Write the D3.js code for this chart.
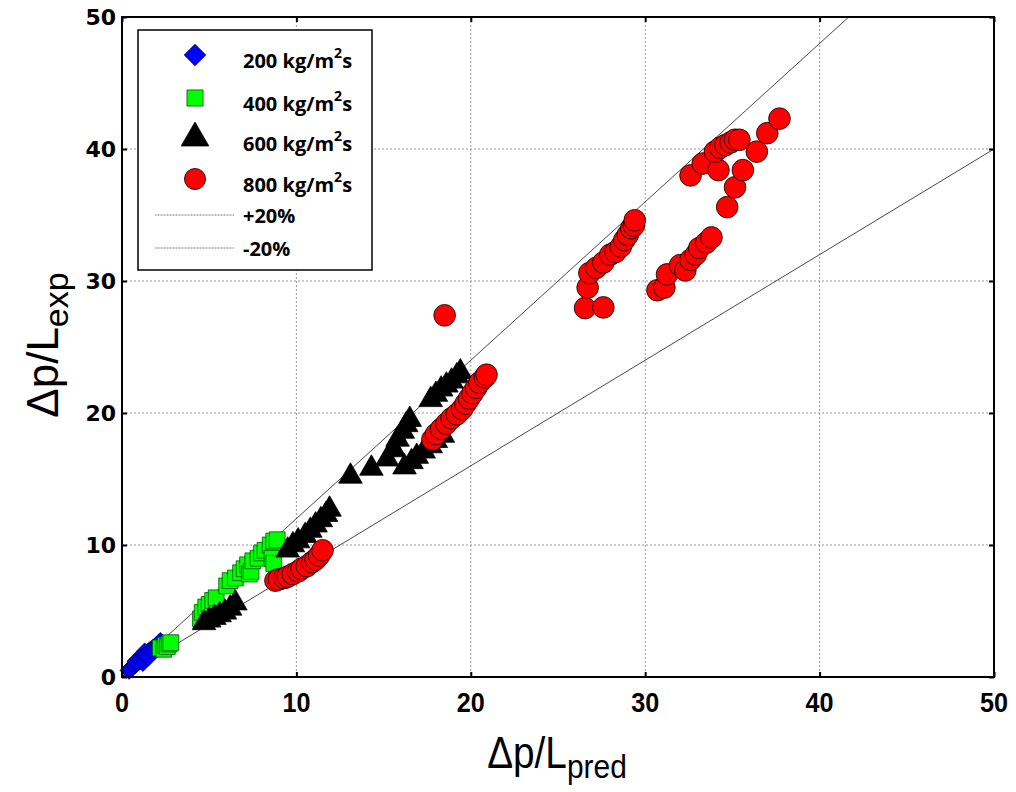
<!DOCTYPE html>
<html>
<head>
<meta charset="utf-8">
<script src="https://cdn.jsdelivr.net/npm/d3@7.9.0/dist/d3.min.js"></script>
<style>
  body { margin: 0; background: #fff; }
  svg { display: block; }
</style>
</head>
<body>
<svg id="chart" width="1016" height="792"></svg>
<script>
// values: [pred, exp]
const g200 = [[0.4,0.5],[0.5,0.6],[0.6,0.8],[0.7,0.9],[0.8,1.0],[0.9,1.1],[1.0,1.2],[0.8,1.2],
  [1.1,1.4],[1.2,1.5],[1.0,1.4],[1.3,1.6],[1.4,1.7],[1.3,1.9],[1.5,1.9],[1.6,2.0],[1.8,2.2],
  [1.9,2.3],[2.0,2.4],[2.1,2.5],[2.2,2.7],[1.2,1.1],[1.5,1.5],[1.8,1.9]];
const g400 = [[2.2,2.2],[2.4,2.1],[2.5,2.4],[2.6,2.3],[2.7,2.5],[2.8,2.6],
  [4.5,4.4],[4.6,4.9],[4.8,5.3],[5.0,5.5],[5.2,5.8],[5.4,6.0],[6.0,6.9],[6.2,7.3],[6.5,7.5],
  [6.8,7.9],[7.0,8.2],[7.2,8.5],[7.3,7.8],[7.4,8.0],[7.5,8.8],[7.8,9.0],[8.0,9.4],[8.2,9.6],
  [8.5,10.0],[8.7,10.3],[8.9,10.4],[8.6,9.0],[8.7,8.6]];
const g600 = [[4.7,4.1],[5.0,4.3],[5.3,4.5],[5.6,4.7],[5.9,4.9],[6.2,5.2],[6.5,5.6],
  [9.5,9.6],[9.8,10.0],[10.1,10.3],[10.5,10.7],[10.8,11.1],[11.1,11.5],[11.4,11.9],[11.7,12.3],[11.9,12.7],
  [13.1,15.2],[14.3,15.8],[15.2,16.5],[15.6,17.2],[15.8,18.0],[16.1,18.6],[16.3,19.1],[16.5,19.5],
  [16.2,15.9],[16.6,16.3],[16.9,16.7],[17.3,17.1],[17.7,17.5],[18.0,17.9],[18.4,18.3],
  [17.7,21.0],[18.0,21.4],[18.3,21.8],[18.6,22.1],[18.9,22.4],[19.2,22.8],[19.4,23.1]];
const g800 = [[8.8,7.3],[9.0,7.4],[9.3,7.5],[9.5,7.6],[9.8,7.8],[10.1,8.0],[10.3,8.2],[10.6,8.4],
  [10.9,8.7],[11.1,8.9],[11.3,9.2],[11.5,9.6],
  [17.8,18.0],[18.0,18.4],[18.3,18.8],[18.6,19.2],[18.9,19.6],[19.2,19.9],[19.5,20.3],[19.7,20.7],
  [19.9,21.1],[20.1,21.5],[20.3,21.9],[20.5,22.3],[20.8,22.7],[20.9,22.9],
  [18.5,27.4],
  [26.55,27.95],[27.6,28.0],[26.7,29.5],[26.8,30.6],[27.2,31.0],[27.6,31.4],[28.0,32.0],[28.3,32.2],
  [28.6,32.6],[28.8,33.1],[29.0,33.5],[29.2,34.0],[29.35,34.2],[29.4,34.6],
  [30.7,29.3],[31.1,29.5],[31.25,30.5],[32.0,31.2],[32.3,30.8],[32.6,31.6],[32.9,32.0],[33.1,32.5],
  [33.5,32.9],[33.8,33.3],
  [32.6,38.0],[33.3,38.9],[34.2,38.4],[34.0,39.8],[34.3,40.1],[34.6,40.3],[34.9,40.5],[35.15,40.7],
  [35.4,40.7],[34.7,35.6],[35.15,37.1],[35.6,38.4],[36.4,39.8],[37.0,41.2],[37.7,42.3]];
const plusLine = [[0,0],[41.67,50]];
const minusLine = [[0,0],[50,40]];
const ticks = [0,10,20,30,40,50];
const labels = ["200 kg/m", "400 kg/m", "600 kg/m", "800 kg/m"];

const svg = d3.select('#chart');
const mLeft = 122, mRight = 994, mTop = 17, mBottom = 677;
let x = d3.scaleLinear().domain([0,50]).range([mLeft,mRight]);
let y = d3.scaleLinear().domain([0,50]).range([mBottom,mTop]);

// grid
let grid = svg.append('g');
ticks.slice(1,-1).forEach(t => {
  grid.append('line').attr('x1', x(t)).attr('x2', x(t)).attr('y1', mTop).attr('y2', mBottom)
    .attr('stroke', '#999').attr('stroke-dasharray', '2,2');
  grid.append('line').attr('x1', mLeft).attr('x2', mRight).attr('y1', y(t)).attr('y2', y(t))
    .attr('stroke', '#999').attr('stroke-dasharray', '2,2');
});

// +/-20% lines
let line = d3.line().x(d => x(d[0])).y(d => y(d[1]));
[plusLine, minusLine].forEach(l => {
  svg.append('path').attr('d', line(l)).attr('fill', 'none')
    .attr('stroke', '#333').attr('stroke-width', 0.9);
});

// series
const series = [
  { data: g200, type: d3.symbolSquare, size: 160, rot: 45, fill: '#0000ff', stroke: '#000066' },
  { data: g400, type: d3.symbolSquare, size: 250, rot: 0, fill: '#00ff00', stroke: '#005500' },
  { data: g600, type: d3.symbolTriangle, size: 240, rot: 0, fill: '#000000', stroke: '#000000' },
  { data: g800, type: d3.symbolCircle, size: 370, rot: 0, fill: '#ff0000', stroke: '#000000' }
];
let plot = svg.append('g');
series.forEach(s => {
  let sym = d3.symbol().type(s.type).size(s.size);
  plot.append('g').selectAll('path').data(s.data).join('path')
    .attr('d', sym)
    .attr('transform', d => `translate(${x(d[0])},${y(d[1])}) rotate(${s.rot})`)
    .attr('fill', s.fill).attr('stroke', s.stroke).attr('stroke-width', 0.8);
});

// axes box and inward ticks
svg.append('rect').attr('x', mLeft).attr('y', mTop).attr('width', mRight-mLeft).attr('height', mBottom-mTop)
  .attr('fill', 'none').attr('stroke', '#000').attr('stroke-width', 2);
svg.append('g').attr('transform', `translate(0,${mBottom})`)
  .call(d3.axisBottom(x).tickValues(ticks).tickSize(-5).tickFormat(''))
  .call(g => g.select('.domain').remove());
svg.append('g').attr('transform', `translate(0,${mTop})`)
  .call(d3.axisTop(x).tickValues(ticks).tickSize(-5).tickFormat(''))
  .call(g => g.select('.domain').remove());
svg.append('g').attr('transform', `translate(${mLeft},0)`)
  .call(d3.axisLeft(y).tickValues(ticks).tickSize(-5).tickFormat(''))
  .call(g => g.select('.domain').remove());
svg.append('g').attr('transform', `translate(${mRight},0)`)
  .call(d3.axisRight(y).tickValues(ticks).tickSize(-5).tickFormat(''))
  .call(g => g.select('.domain').remove());
svg.selectAll('.tick line').attr('stroke', '#000').attr('stroke-width', 2);

// tick labels
ticks.forEach(t => {
  svg.append('text').attr('transform', `translate(${x(t)},712) scale(0.9,1)`).attr('text-anchor', 'middle')
    .attr('font-family', '"Liberation Sans", sans-serif')
    .attr('font-weight', 'bold').attr('font-size', 28).text(t);
  svg.append('text').attr('x', 116).attr('y', y(t) + 8).attr('text-anchor', 'end')
    .attr('font-family', '"DejaVu Sans", sans-serif')
    .attr('font-weight', 'bold').attr('font-size', 22).text(t);
});

// axis titles
const titleFont = '"Liberation Sans", sans-serif';
let xt = svg.append('text').attr('transform', 'translate(557,768) scale(0.88,1)')
  .attr('text-anchor', 'middle').attr('font-family', titleFont).attr('font-size', 44);
xt.append('tspan').text('Δp/L');
xt.append('tspan').attr('font-size', 34).attr('dy', 10).text('pred');
let yt = svg.append('text').attr('transform', 'translate(58,345) rotate(-90)')
  .attr('text-anchor', 'middle').attr('font-family', titleFont).attr('font-size', 44);
yt.append('tspan').text('Δp/L');
yt.append('tspan').attr('font-size', 34).attr('dy', 10).text('exp');

// legend
let lg = svg.append('g');
lg.append('rect').attr('x', 138).attr('y', 30).attr('width', 234).attr('height', 240)
  .attr('fill', '#fff').attr('stroke', '#000').attr('stroke-width', 1.5);
const rowY = [55, 98, 138, 179];
const legendSize = [230, 260, 330, 350];
series.forEach((s, i) => {
  lg.append('path').attr('d', d3.symbol().type(s.type).size(legendSize[i]))
    .attr('transform', `translate(195,${rowY[i]}) rotate(${s.rot})`)
    .attr('fill', s.fill).attr('stroke', s.stroke).attr('stroke-width', 0.8);
  let tx = lg.append('text').attr('x', 243).attr('y', rowY[i] + 13)
    .attr('font-family', '"Open Sans", sans-serif').attr('font-weight', 'bold').attr('font-size', 20);
  tx.append('tspan').text(labels[i]);
  tx.append('tspan').attr('font-size', 14).attr('dy', -10).text('2');
  tx.append('tspan').attr('dy', 10).text('s');
});
[['+20%', 215], ['-20%', 248]].forEach(([t, yy]) => {
  lg.append('line').attr('x1', 155).attr('x2', 234).attr('y1', yy).attr('y2', yy)
    .attr('stroke', '#777').attr('stroke-width', 1).attr('stroke-dasharray', '1,0.5');
  lg.append('text').attr('x', 243).attr('y', yy + 8)
    .attr('font-family', '"Open Sans", sans-serif').attr('font-weight', 'bold').attr('font-size', 20)
    .text(t);
});
</script>
</body>
</html>
